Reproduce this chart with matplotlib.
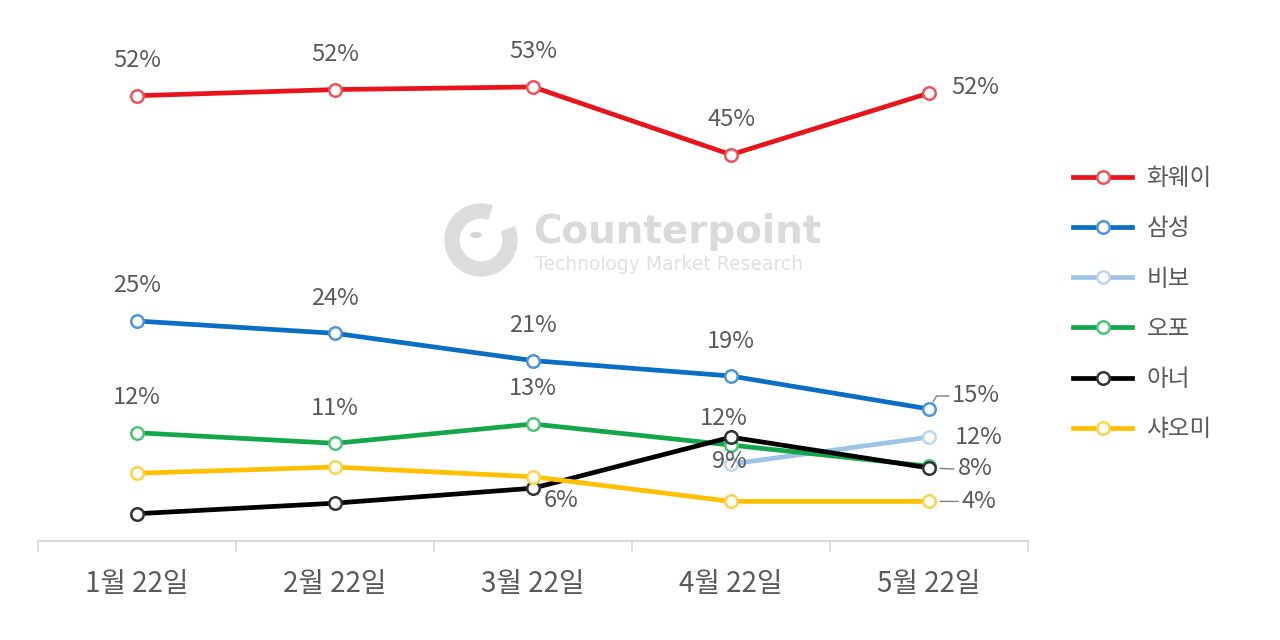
import matplotlib.pyplot as plt
import numpy as np
from matplotlib.patches import Arc, Circle

plt.rcParams['font.family'] = ['Noto Sans CJK KR', 'DejaVu Sans']

# 데이터
months = ['1월 22일', '2월 22일', '3월 22일', '4월 22일', '5월 22일']
brands = ['화웨이', '삼성', '비보', '오포', '아너', '샤오미']
huawei = [50.6, 51.3, 51.6, 43.9, 50.9]
samsung = [25.0, 23.6, 20.5, 18.75, 15.0]
vivo = [np.nan, np.nan, np.nan, 8.75, 11.8]
oppo = [12.3, 11.1, 13.3, 10.9, 8.5]
honor = [3.1, 4.3, 6.0, 11.8, 8.3]
xiaomi = [7.7, 8.4, 7.3, 4.5, 4.5]

huawei_lbl = ['52%', '52%', '53%', '45%', '52%']
samsung_lbl = ['25%', '24%', '21%', '19%', '15%']
vivo_lbl = [None, None, None, '9%', '12%']
oppo_lbl = ['12%', '11%', '13%', None, None]
honor_lbl = [None, None, '6%', '12%', '8%']
xiaomi_lbl = [None, None, None, None, '4%']

colors = ['#E8131B', '#0A6FC2', '#9DC3E6', '#12A84A', '#000000', '#FFC000']
edge = ['#F0525A', '#4C95D6', '#BDD7EE', '#4CC47A', '#333333', '#FFD24D']

series = [huawei, samsung, vivo, oppo, honor, xiaomi]
labels = [huawei_lbl, samsung_lbl, vivo_lbl, oppo_lbl, honor_lbl, xiaomi_lbl]

# 라벨 위치 (픽셀 오프셋, 정렬, 지시선)
default_pos = (0, 35, 'center', False)
special_pos = {
    (0, 4): (22, 6, 'left', False),
    (1, 4): (23, 13, 'left', True),
    (2, 3): (-2, 2, 'center', False),
    (2, 4): (26, 0, 'left', False),
    (4, 2): (28, -12, 'center', False),
    (4, 3): (-7, 19, 'center', False),
    (4, 4): (29, -1, 'left', True),
    (5, 4): (33, 0, 'left', True),
}

fig = plt.figure(figsize=(12.8, 6.4), dpi=100)
ax = fig.add_axes([38 / 1280, 1 - 541 / 640, 990 / 1280, 528 / 640])

# 워터마크
fig.text(533 / 1280, 1 - 232 / 640, 'Counterpoint', fontsize=28, fontweight='bold',
         color='#DADADA', ha='left', va='center', family=['DejaVu Sans'])
fig.text(535 / 1280, 1 - 264 / 640, 'Technology Market Research', fontsize=13.5,
         color='#E0E0E0', ha='left', va='center', family=['DejaVu Sans'])
fig.patches.append(Arc((481 / 1280, 1 - 240 / 640), 58 / 1280, 58 / 640, theta1=80, theta2=400,
                       lw=11, color='#DCDCDC', transform=fig.transFigure))
fig.patches.append(Circle((476 / 1280, 1 - 235 / 640), 5 / 1280, color='#D5D5D5',
                          transform=fig.transFigure))

x = np.arange(len(months))
for i, (vals, name) in enumerate(zip(series, brands)):
    ax.plot(x, vals, color=colors[i], lw=3.4, marker='o', ms=9, mfc='white',
            mec=edge[i], mew=1.8, label=name, zorder=3 + i * 0.1)

for i, (vals, lbls) in enumerate(zip(series, labels)):
    for j, t in enumerate(lbls):
        if t is None:
            continue
        dx, dy, ha, leader = special_pos.get((i, j), default_pos)
        ax.annotate(t, (x[j], vals[j]), xytext=(dx, dy), textcoords='offset pixels',
                    ha=ha, va='center', fontsize=17, fontweight='medium',
                    color='#595959', zorder=10)
        if leader:
            if dy > 5:
                ax.annotate('', (x[j], vals[j]), xytext=(dx - 3, dy), textcoords='offset pixels',
                            arrowprops=dict(arrowstyle='-', color='#808080', lw=1,
                                            shrinkA=0, shrinkB=6,
                                            connectionstyle='angle,angleA=180,angleB=60,rad=0'))
            else:
                ax.annotate('', (x[j], vals[j]), xytext=(dx - 4, dy), textcoords='offset pixels',
                            arrowprops=dict(arrowstyle='-', color='#808080', lw=1,
                                            shrinkA=0, shrinkB=8))

ax.set_xlim(-0.5, 4.5)
ax.set_ylim(0, 60)
for s in ['top', 'right', 'left']:
    ax.spines[s].set_visible(False)
ax.spines['bottom'].set_color('#D9D9D9')
ax.spines['bottom'].set_linewidth(1.5)
ax.set_yticks([])
ax.set_xticks(np.arange(-0.5, 5, 1), minor=False)
ax.set_xticklabels([''] * 6)
ax.tick_params(axis='x', length=8, color='#D9D9D9', width=1.2)
ax.set_xticks(x, minor=True)
ax.set_xticklabels(months, minor=True, fontsize=20, fontweight='medium', color='#595959')
ax.tick_params(axis='x', which='minor', length=0, pad=20)

fig.legend(loc='upper left', bbox_to_anchor=(1052 / 1280, 1 - 146 / 640), frameon=False,
           fontsize=17, labelcolor='#595959', handlelength=2.5, labelspacing=1.15,
           handletextpad=0.6)

fig.savefig('out.png', dpi=100)
